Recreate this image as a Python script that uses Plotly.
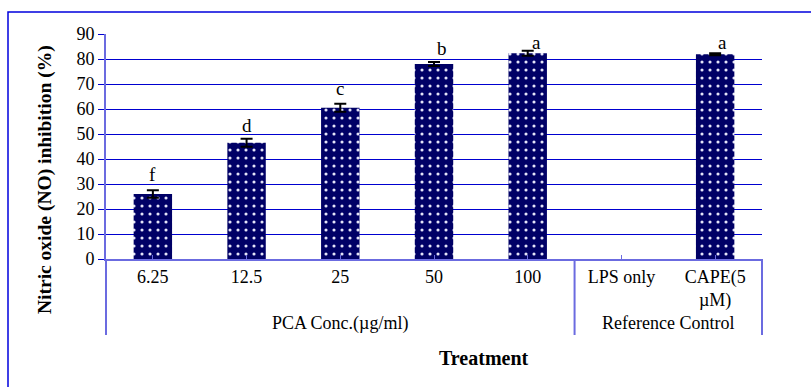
import plotly.graph_objects as go

categories = ["6.25", "12.5", "25", "50", "100", "LPS only", "CAPE(5<br>µM)"]
values = [26.0, 46.5, 60.5, 78.0, 82.3, None, 81.9]
errors = [1.5, 1.6, 1.6, 0.8, 1.0, 0.0, 0.4]
letters = ["f", "d", "c", "b", "a", "", "a"]
letter_dx = [0, 0, 0, 8, 9, 0, 7]
letter_dy = [3, 1, 3, 1, -4, 0, -2]
groups = [("PCA Conc.(µg/ml)", 0, 4), ("Reference Control", 5, 6)]

W, H = 811, 387
ML, MR, MT, MB = 106, 49, 34, 128
pw, ph = W - ML - MR, H - MT - MB
n = len(categories)
SERIF = "Liberation Serif, Times New Roman, serif"
GRID = "#0000D0"
AXIS = "#6B6BE0"

fig = go.Figure()
fig.add_trace(go.Bar(
    x=list(range(n)), y=values,
    width=0.41,
    marker=dict(color="#000066", line=dict(width=0),
                pattern=dict(shape=".", fgcolor="#E4E4F8", bgcolor="#000066",
                             size=8, solidity=0.12, fillmode="replace")),
    error_y=dict(type="data", array=errors, visible=True, color="black",
                 thickness=2, width=6),
    hoverinfo="skip",
))

ann = []
for i, (v, e, t, dx, dy) in enumerate(zip(values, errors, letters, letter_dx, letter_dy)):
    if v is None or not t:
        continue
    ann.append(dict(x=i, y=v + e, text=t, showarrow=False, yanchor="bottom", xanchor="center",
                    xshift=dx, yshift=dy, font=dict(family=SERIF, size=19, color="black")))

def px_x(xpx):
    return (xpx - ML) / pw

def px_y(ypx):
    return (H - MB - ypx) / ph

shapes = []
bottom = px_y(335)
for gname, a, b in groups:
    xc = ((a + b) / 2 + 0.5) / n
    ann.append(dict(x=xc, y=px_y(323), xref="paper", yref="paper", text=gname,
                    xanchor="center", yanchor="middle",
                    showarrow=False, font=dict(family=SERIF, size=18, color="black")))
bounds = sorted(set([groups[0][1]] + [g[2] + 1 for g in groups]))
for bnd in bounds:
    xp = bnd / n
    shapes.append(dict(type="line", xref="paper", yref="paper", x0=xp, x1=xp,
                       y0=0, y1=bottom, line=dict(color=AXIS, width=2)))

ann.append(dict(x=px_x(484), y=px_y(358), xref="paper", yref="paper", text="<b>Treatment</b>",
                xanchor="center", yanchor="middle",
                showarrow=False, font=dict(family=SERIF, size=20, color="black")))
ann.append(dict(x=px_x(45), y=px_y(180), xref="paper", yref="paper",
                text="<b>Nitric oxide (NO) inhibition (%)</b>", textangle=-90,
                xanchor="center", yanchor="middle",
                showarrow=False, font=dict(family=SERIF, size=19.5, color="black")))

# outer chart border
shapes.append(dict(type="rect", xref="paper", yref="paper",
                   x0=px_x(8), x1=px_x(830), y0=px_y(400), y1=px_y(12),
                   line=dict(color="#0000DD", width=1.5)))

fig.update_layout(
    width=W, height=H,
    margin=dict(l=ML, r=MR, t=MT, b=MB),
    plot_bgcolor="white", paper_bgcolor="white",
    showlegend=False,
    annotations=ann, shapes=shapes,
    xaxis=dict(range=[-0.5, n - 0.5], tickmode="array", tickvals=list(range(n)),
               ticktext=categories, showgrid=False, zeroline=False,
               showline=True, linecolor=AXIS, linewidth=2,
               ticks="inside", ticklen=4, tickcolor=AXIS,
               tickfont=dict(family=SERIF, size=18, color="black")),
    yaxis=dict(range=[0, 90], dtick=10, showgrid=True, gridcolor=GRID, gridwidth=1,
               zeroline=False, showline=True, linecolor=AXIS, linewidth=2,
               ticks="outside", ticklen=6, tickcolor=GRID,
               tickfont=dict(family=SERIF, size=18, color="black")),
)

fig.write_html("out.html", config={"displayModeBar": False},
               post_script="document.body.style.margin='0';")
